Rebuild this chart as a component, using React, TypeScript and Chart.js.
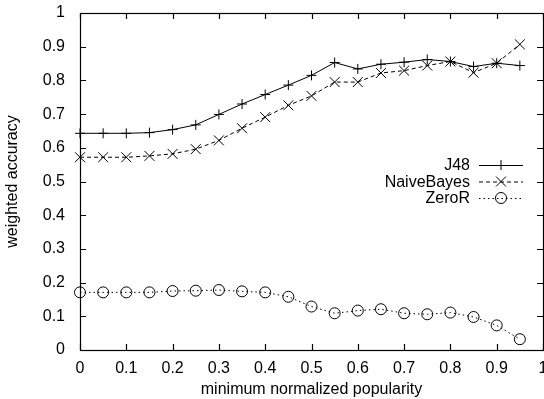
import React, { useEffect, useRef } from "react";
import { Chart, registerables } from "chart.js";
Chart.register(...registerables);

const xValues = [0, 0.05, 0.1, 0.15, 0.2, 0.25, 0.3, 0.35, 0.4, 0.45, 0.5, 0.55, 0.6, 0.65, 0.7, 0.75, 0.8, 0.85, 0.9, 0.95];
const j48 = [0.643, 0.643, 0.643, 0.645, 0.654, 0.668, 0.699, 0.730, 0.758, 0.786, 0.815, 0.853, 0.834, 0.848, 0.854, 0.862, 0.856, 0.841, 0.851, 0.844];
const naiveBayes = [0.572, 0.572, 0.572, 0.576, 0.582, 0.596, 0.622, 0.658, 0.691, 0.726, 0.754, 0.795, 0.795, 0.822, 0.829, 0.844, 0.856, 0.823, 0.851, 0.907];
const zeroR = [0.171, 0.171, 0.171, 0.171, 0.175, 0.176, 0.178, 0.174, 0.171, 0.158, 0.129, 0.109, 0.117, 0.121, 0.109, 0.106, 0.111, 0.098, 0.073, 0.032];
const seriesNames = ["J48", "NaiveBayes", "ZeroR"];
const xTicks = [0, 0.1, 0.2, 0.3, 0.4, 0.5, 0.6, 0.7, 0.8, 0.9, 1];
const yTicks = [0, 0.1, 0.2, 0.3, 0.4, 0.5, 0.6, 0.7, 0.8, 0.9, 1];
const xTitle = "minimum normalized popularity";
const yTitle = "weighted accuracy";

const FONT = "'Liberation Sans', Arial, Helvetica, sans-serif";
const dashes = [[], [4, 3], [1.5, 3]];
const styles = ["cross", "crossRot", "circle"];
const radii = [5, 7, 5.5];

function fmt(v: number) {
  return String(Number(v.toFixed(1)));
}

const framePlugin = {
  id: "frame",
  afterDraw(chart: any) {
    const { ctx, chartArea } = chart;
    const { left, right, top, bottom } = chartArea;
    const xs = chart.scales.x;
    const ys = chart.scales.y;
    const tl = 6;
    ctx.save();
    ctx.strokeStyle = "#000";
    ctx.lineWidth = 1.2;
    ctx.setLineDash([]);
    ctx.strokeRect(Math.round(left) + 0.5, Math.round(top) + 0.5, Math.round(right - left), Math.round(bottom - top));
    ctx.beginPath();
    xTicks.forEach((v) => {
      const px = Math.round(xs.getPixelForValue(v)) + 0.5;
      ctx.moveTo(px, bottom);
      ctx.lineTo(px, bottom - tl);
      ctx.moveTo(px, top);
      ctx.lineTo(px, top + tl);
    });
    yTicks.forEach((v) => {
      const py = Math.round(ys.getPixelForValue(v)) + 0.5;
      ctx.moveTo(left, py);
      ctx.lineTo(left + tl, py);
      ctx.moveTo(right, py);
      ctx.lineTo(right - tl, py);
    });
    ctx.stroke();

    const textRight = 470;
    const lineStart = 479;
    const lineEnd = 523;
    const rows = [165, 181.5, 198];
    ctx.font = `16px ${FONT}`;
    ctx.fillStyle = "#000";
    ctx.textAlign = "right";
    ctx.textBaseline = "middle";
    seriesNames.forEach((name, i) => {
      const y = rows[i];
      ctx.fillText(name, textRight, y + 1);
      ctx.lineWidth = 1;
      ctx.setLineDash(dashes[i]);
      ctx.beginPath();
      ctx.moveTo(lineStart, y + 0.5);
      ctx.lineTo(lineEnd, y + 0.5);
      ctx.stroke();
      ctx.setLineDash([]);
      const cx = (lineStart + lineEnd) / 2;
      ctx.beginPath();
      if (i === 0) {
        ctx.moveTo(cx - 5, y + 0.5);
        ctx.lineTo(cx + 5, y + 0.5);
        ctx.moveTo(cx, y - 5);
        ctx.lineTo(cx, y + 5);
      } else if (i === 1) {
        const r = 7 * Math.SQRT1_2;
        ctx.moveTo(cx - r, y - r);
        ctx.lineTo(cx + r, y + r);
        ctx.moveTo(cx - r, y + r);
        ctx.lineTo(cx + r, y - r);
      } else {
        ctx.arc(cx, y, 5.5, 0, Math.PI * 2);
      }
      ctx.stroke();
    });
    ctx.restore();
  },
};

export default function App() {
  const ref = useRef<HTMLCanvasElement>(null);
  useEffect(() => {
    if (!ref.current) return;
    const series = [j48, naiveBayes, zeroR];
    const chart = new Chart(ref.current, {
      type: "line",
      data: {
        datasets: series.map((vals, i) => ({
          label: seriesNames[i],
          data: vals.map((v, k) => ({ x: xValues[k], y: v })),
          borderColor: "#000",
          borderWidth: 1,
          borderDash: dashes[i],
          pointStyle: styles[i] as any,
          pointRadius: radii[i],
          pointBorderColor: "#000",
          pointBackgroundColor: "rgba(0,0,0,0)",
          pointBorderWidth: 1,
          fill: false,
          tension: 0,
          clip: false as any,
        })),
      },
      options: {
        animation: false,
        responsive: false,
        events: [],
        layout: { autoPadding: false, padding: { top: 13, right: 1, left: 0, bottom: 0 } },
        plugins: { legend: { display: false }, tooltip: { enabled: false } },
        scales: {
          x: {
            type: "linear",
            min: 0,
            max: 1,
            grid: { display: false, drawTicks: false },
            border: { display: false },
            afterBuildTicks: (s: any) => {
              s.ticks = xTicks.map((v) => ({ value: v }));
            },
            afterFit: (s: any) => {
              s.height = 49;
              s.paddingLeft = 0;
              s.paddingRight = 0;
            },
            ticks: {
              autoSkip: false,
              maxRotation: 0,
              padding: 9,
              color: "#000",
              font: { family: FONT, size: 16 },
              callback: (v: any) => fmt(Number(v)),
            },
            title: {
              display: true,
              text: xTitle,
              color: "#000",
              font: { family: FONT, size: 16 },
              padding: { top: 0, bottom: 0 },
            },
          },
          y: {
            type: "linear",
            min: 0,
            max: 1,
            grid: { display: false, drawTicks: false },
            border: { display: false },
            afterBuildTicks: (s: any) => {
              s.ticks = yTicks.map((v) => ({ value: v }));
            },
            afterFit: (s: any) => {
              s.width = 80;
              s.paddingTop = 0;
              s.paddingBottom = 0;
            },
            ticks: {
              autoSkip: false,
              padding: 15,
              color: "#000",
              font: { family: FONT, size: 16 },
              callback: (v: any) => fmt(Number(v)),
            },
            title: {
              display: true,
              text: yTitle,
              color: "#000",
              font: { family: FONT, size: 16 },
              padding: { top: 3, bottom: 0 },
            },
          },
        },
      },
      plugins: [framePlugin],
    });
    return () => chart.destroy();
  }, []);
  return (
    <div style={{ position: "absolute", left: 0, top: 0, width: 544, height: 399, background: "#fff" }}>
      <canvas ref={ref} width={544} height={399} />
    </div>
  );
}
